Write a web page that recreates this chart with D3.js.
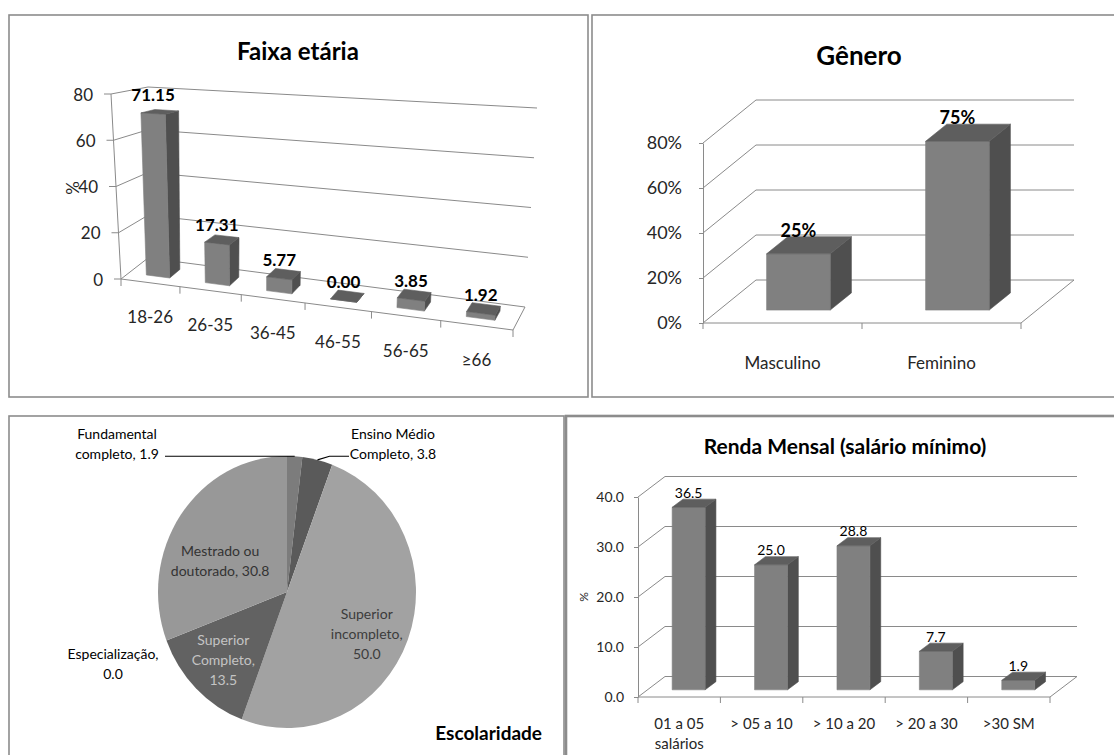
<!DOCTYPE html>
<html><head><meta charset="utf-8">
<script src="https://cdn.jsdelivr.net/npm/d3@7"></script>
<style>
html,body{margin:0;padding:0;background:#fff;}
svg{display:block;font-family:Lato,"Open Sans",sans-serif;}
</style></head><body>
<svg id="c" width="1114" height="755"></svg>
<script>
// ---- Faixa etária ----
const ageGroups = ["18-26", "26-35", "36-45", "46-55", "56-65", "≥66"];
const agePct = [71.15, 17.31, 5.77, 0.00, 3.85, 1.92];
const ageTicks = [0, 20, 40, 60, 80];

// ---- Gênero ----
const genders = ["Masculino", "Feminino"];
const genderShare = [0.25, 0.75];
const genderTicks = [0, 0.2, 0.4, 0.6, 0.8];

// ---- Escolaridade ----
const schooling = ["Fundamental completo", "Ensino Médio Completo", "Superior incompleto",
                   "Superior Completo", "Especialização", "Mestrado ou doutorado"];
const schoolingPct = [1.9, 3.8, 50.0, 13.5, 0.0, 30.8];

// ---- Renda mensal ----
const incomeBands = ["01 a 05 salários", "> 05 a 10", "> 10 a 20", "> 20 a 30", ">30 SM"];
const incomePct = [36.5, 25.0, 28.8, 7.7, 1.9];
const incomeTicks = [0, 10, 20, 30, 40];

const svg = d3.select("#c");
const GRID = "#8a8a8a", TXT = "#262626", BORDER = "#8c8c8c";
const FRONT = "#808080", SIDE = "#4f4f4f", TOP = "#5e5e5e";
const line = d3.line();

function panel(x, y, w, h, sw) {
  svg.append("rect").attr("x", x).attr("y", y).attr("width", w).attr("height", h)
    .attr("fill", "none").attr("stroke", BORDER).attr("stroke-width", sw);
}
panel(9, 15, 579, 382, 1.6);
panel(592, 15, 540, 382, 1.6);
panel(9, 416, 555, 360, 1.6);
panel(566, 416, 560, 360, 2.6);

function seg(g, a, b, w) {
  g.append("path").attr("d", line([a, b])).attr("stroke", GRID).attr("stroke-width", w || 1).attr("fill", "none");
}
function box(g, P, u0, u1, t, d0, d1) {
  const faces = [
    {pts: [P(u1,0,d0), P(u1,0,d1), P(u1,t,d1), P(u1,t,d0)], c: SIDE},
    {pts: [P(u0,0,d0), P(u1,0,d0), P(u1,t,d0), P(u0,t,d0)], c: FRONT},
    {pts: [P(u0,t,d0), P(u1,t,d0), P(u1,t,d1), P(u0,t,d1)], c: TOP}
  ];
  faces.forEach(f => g.append("path").attr("d", line(f.pts) + "Z")
    .attr("fill", f.c).attr("stroke", f.c).attr("stroke-width", 0.6).attr("stroke-linejoin", "round"));
}

// ================= Faixa etária (perspective 3-D columns) =================
(function () {
  const g = svg.append("g");
  const C = {fl0:[121,279], fr0:[513,330], bl0:[148,258], br0:[525,307],
             fl1:[111,94],  fr1:[527,112], bl1:[148,87],  br1:[537,108]};
  const lerp = (a, b, k) => [a[0] + (b[0]-a[0])*k, a[1] + (b[1]-a[1])*k];
  const warp = u => u * 0.885 / (1 - 0.115 * u);
  const P = (u, t, d) => {
    const w = warp(u);
    const f0 = lerp(lerp(C.fl0, C.fr0, w), lerp(C.bl0, C.br0, w), d);
    const f1 = lerp(lerp(C.fl1, C.fr1, w), lerp(C.bl1, C.br1, w), d);
    return lerp(f0, f1, t);
  };
  const x = d3.scaleBand().domain(ageGroups).range([0, 1]).paddingInner(0.6).paddingOuter(0.3);
  const y = d3.scaleLinear().domain([0, 80]).range([0, 1]);
  const D0 = 0.3, D1 = 0.7;

  // walls and floor
  ageTicks.forEach(v => {
    const t = y(v);
    seg(g, P(0,t,0), P(0,t,1));
    seg(g, P(0,t,1), P(1,t,1));
    const a = P(0,t,0);
    seg(g, [a[0]-7, a[1]], a);
    g.append("text").attr("x", a[0]-18).attr("y", a[1]).attr("text-anchor", "end")
      .attr("dominant-baseline", "central").attr("font-size", 17).attr("fill", TXT).text(v);
  });
  seg(g, P(0,0,0), P(0,1,0));
  seg(g, P(0,0,0), P(1,0,0));
  seg(g, P(1,0,0), P(1,0,1));
  d3.range(ageGroups.length + 1).forEach(i => {
    const a = P(i / ageGroups.length, 0, 0);
    seg(g, a, [a[0], a[1] + 7]);
  });

  ageGroups.forEach((k, i) => {
    const u0 = x(k), u1 = u0 + x.bandwidth(), t = y(agePct[i]);
    box(g, P, u0, u1, t, D0, D1);
    const top = P((u0+u1)/2, t, D0);
    g.append("text").attr("x", top[0]).attr("y", top[1] - 19).attr("text-anchor", "middle")
      .attr("dominant-baseline", "central").attr("font-size", 17).attr("font-weight", "bold")
      .attr("fill", "#000").text(agePct[i].toFixed(2));
    const b = P((u0+u1)/2, 0, 0);
    g.append("text").attr("x", b[0]).attr("y", b[1] + 34).attr("text-anchor", "middle")
      .attr("dominant-baseline", "central").attr("font-size", 17).attr("fill", TXT).text(k);
  });
  g.append("text").attr("transform", "translate(72,188) rotate(-90)").attr("text-anchor", "middle")
    .attr("dominant-baseline", "central").attr("font-size", 17).attr("fill", TXT).text("%");
  g.append("text").attr("x", 298).attr("y", 50).attr("text-anchor", "middle")
    .attr("dominant-baseline", "central").attr("font-size", 24).attr("font-weight", "bold")
    .attr("fill", "#000").text("Faixa etária");
})();

// ============ oblique 3-D column chart helper ============
function obliqueChart(o) {
  const g = svg.append("g");
  const x = d3.scaleBand().domain(o.cats).range(o.xr).paddingInner(0.6).paddingOuter(0.3);
  const y = d3.scaleLinear().domain(o.yd).range(o.yr);
  const [dx, dy] = o.depth;
  const P = (px, v, d) => [px + d*dx, y(v) + d*dy];

  o.ticks.forEach(v => {
    seg(g, P(o.xr[0], v, 0), P(o.xr[0], v, 1));
    seg(g, P(o.xr[0], v, 1), P(o.xr[1], v, 1));
  });
  seg(g, P(o.xr[0], o.yd[0], 0), P(o.xr[1], o.yd[0], 0));
  seg(g, P(o.xr[1], o.yd[0], 0), P(o.xr[1], o.yd[0], 1));
  const step = (o.xr[1] - o.xr[0]) / o.cats.length;
  d3.range(o.cats.length + 1).forEach(i => {
    const a = P(o.xr[0] + i*step, o.yd[0], 0);
    seg(g, a, [a[0], a[1] + 6]);
  });
  const axis = d3.axisLeft(y).tickValues(o.ticks).tickFormat(o.fmt)
    .tickSize(4).tickSizeOuter(0).tickPadding(o.pad);
  const ag = g.append("g").attr("transform", `translate(${o.xr[0]},0)`).call(axis);
  ag.select(".domain").attr("stroke", GRID);
  ag.selectAll(".tick line").attr("stroke", GRID);
  ag.selectAll(".tick text").attr("font-family", "Lato,sans-serif").attr("font-size", o.fs)
    .attr("fill", TXT);

  o.cats.forEach((k, i) => {
    const x0 = x(k), x1 = x0 + x.bandwidth(), v = o.vals[i], z = o.yd[0];
    const Q = (u, t, d) => P(u, t ? v : z, d);
    const faces = [
      [Q(x1,0,o.d0), Q(x1,0,o.d1), Q(x1,1,o.d1), Q(x1,1,o.d0)],
      [Q(x0,0,o.d0), Q(x1,0,o.d0), Q(x1,1,o.d0), Q(x0,1,o.d0)],
      [Q(x0,1,o.d0), Q(x1,1,o.d0), Q(x1,1,o.d1), Q(x0,1,o.d1)]
    ];
    [SIDE, FRONT, TOP].forEach((c, j) => g.append("path").attr("d", line(faces[j]) + "Z")
      .attr("fill", c).attr("stroke", c).attr("stroke-width", 0.6).attr("stroke-linejoin", "round"));
    const top = P((x0+x1)/2, v, o.d0);
    g.append("text").attr("x", top[0]).attr("y", top[1] - o.labelGap).attr("text-anchor", "middle")
      .attr("dominant-baseline", "central").attr("font-size", o.lfs).attr("font-weight", o.lfw)
      .attr("fill", "#000").text(o.lfmt(v));
    const words = o.wrap ? o.wrap(k) : [k];
    words.forEach((w, j) => g.append("text").attr("x", (x0+x1)/2)
      .attr("y", o.catY + j*o.catLH).attr("text-anchor", "middle").attr("dominant-baseline", "central")
      .attr("font-size", o.cfs).attr("fill", TXT).text(w));
  });
  return g;
}

// ================= Gênero =================
(function () {
  const g = obliqueChart({
    cats: genders, vals: genderShare, xr: [703, 1021], yd: [0, 0.8], yr: [323, 143],
    depth: [53, -43], d0: 0.3, d1: 0.7, ticks: genderTicks, fmt: d3.format(".0%"),
    pad: 17, fs: 18, labelGap: 24, lfs: 18, lfw: "bold", lfmt: d3.format(".0%"),
    catY: 362, catLH: 18, cfs: 17
  });
  g.append("text").attr("x", 859).attr("y", 55).attr("text-anchor", "middle")
    .attr("dominant-baseline", "central").attr("font-size", 26).attr("font-weight", "bold")
    .attr("fill", "#000").text("Gênero");
})();

// ================= Renda Mensal =================
(function () {
  const g = obliqueChart({
    cats: incomeBands, vals: incomePct, xr: [638, 1050], yd: [0, 40], yr: [697, 497],
    depth: [27, -20.5], d0: 0.35, d1: 0.75, ticks: incomeTicks, fmt: d3.format(".1f"),
    pad: 10, fs: 14, labelGap: 15, lfs: 14, lfw: "normal", lfmt: d3.format(".1f"),
    catY: 723, catLH: 20, cfs: 15,
    wrap: k => k.startsWith("01") ? [k.replace(" salários", ""), "salários"] : [k]
  });
  g.append("text").attr("transform", "translate(583,597) rotate(-90)").attr("text-anchor", "middle")
    .attr("dominant-baseline", "central").attr("font-size", 12).attr("fill", TXT).text("%");
  g.append("text").attr("x", 845).attr("y", 445).attr("text-anchor", "middle")
    .attr("dominant-baseline", "central").attr("font-size", 21).attr("font-weight", "bold")
    .attr("fill", "#000").text("Renda Mensal (salário mínimo)");
})();

// ================= Escolaridade (pie) =================
(function () {
  const cx = 287, cy = 592, rx = 129, ry = 136;
  const g = svg.append("g");
  const colors = ["#7c7c7c", "#5a5a5a", "#a2a2a2", "#626262", "#777777", "#989898"];
  const arcs = d3.pie().sort(null).value(d => d)(schoolingPct);
  const arc = d3.arc().innerRadius(0).outerRadius(rx);
  const pg = g.append("g").attr("transform", `translate(${cx},${cy}) scale(1,${ry/rx})`);
  pg.selectAll("path").data(arcs).enter().append("path")
    .attr("d", arc).attr("fill", (d, i) => colors[i]);

  const at = (a, k) => [cx + Math.sin(a) * rx * k, cy - Math.cos(a) * ry * k];
  const mid = d => (d.startAngle + d.endAngle) / 2;

  // label text: name words + value, broken after the given word counts
  const breaks = [[1], [2], [1, 2], [1, 2], [1], [2]];
  const lines = arcs.map((d, i) => {
    const toks = schooling[i].split(" ");
    toks[toks.length - 1] += ",";
    toks.push(d.value.toFixed(1));
    const out = []; let s = 0;
    breaks[i].concat([toks.length]).forEach(b => { out.push(toks.slice(s, b).join(" ")); s = b; });
    return out;
  });
  // inside labels: radial position factor and nudge; outside labels: offsets from the centre
  const place = [
    {out: [-170, -159]}, {out: [106, -159]},
    {k: 0.66, nudge: [0, -10], fill: "#3c3c3c"},
    {k: 0.70, nudge: [0, -20], fill: "#c4c4c4"},
    {out: [-174, 61]},
    {k: 0.62, nudge: [-1, 6], fill: "#333333"}
  ];
  arcs.forEach((d, i) => {
    const p = place[i];
    let pos, fill = "#000";
    if (p.out) pos = [cx + p.out[0], cy + p.out[1]];
    else { const c = at(mid(d), p.k); pos = [c[0] + p.nudge[0], c[1] + p.nudge[1]]; fill = p.fill; }
    lines[i].forEach((t, j) => g.append("text").attr("x", pos[0]).attr("y", pos[1] + j*20)
      .attr("text-anchor", "middle").attr("dominant-baseline", "central")
      .attr("font-size", 14).attr("fill", fill).text(t));
  });
  // leader lines for the two thin slices at the top
  const e0 = at(mid(arcs[0]), 1), e1 = at(mid(arcs[1]), 1);
  g.append("path").attr("d", line([[165, e0[1]], e0])).attr("stroke", "#000").attr("stroke-width", 1.2).attr("fill", "none");
  g.append("path").attr("d", line([e1, [e1[0] + 12, e0[1]], [349, e0[1]]])).attr("stroke", "#000").attr("stroke-width", 1.2).attr("fill", "none");

  g.append("text").attr("x", 542).attr("y", 732).attr("text-anchor", "end")
    .attr("dominant-baseline", "central").attr("font-size", 19).attr("font-weight", "bold")
    .attr("fill", "#000").text("Escolaridade");
})();
</script>
</body></html>
